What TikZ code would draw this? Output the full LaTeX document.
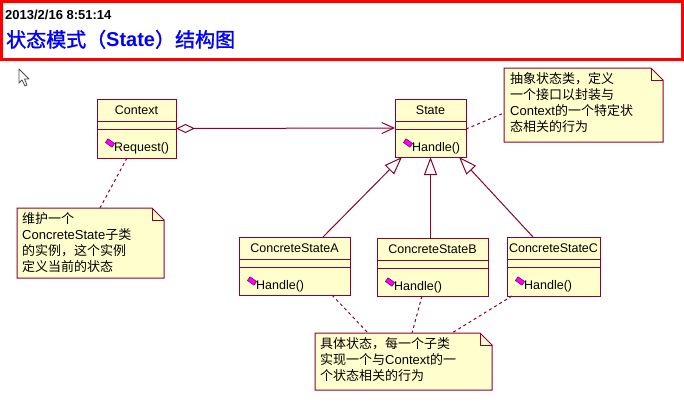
\documentclass[tikz,border=0pt]{standalone}
\usepackage{fontspec}
\setmainfont{Liberation Sans}
\newfontfamily\cjk{Noto Sans CJK SC}
\newfontfamily\cjkb{Noto Sans CJK SC}[FakeBold=1.5]
\usetikzlibrary{arrows.meta}
\definecolor{umlline}{RGB}{140,0,50}
\definecolor{umlfill}{RGB}{255,255,206}
\definecolor{opfill}{RGB}{255,0,255}
\definecolor{opline}{RGB}{120,0,100}
\definecolor{titleblue}{RGB}{0,0,255}
\definecolor{hdrred}{RGB}{255,0,0}
\newcommand\latin[1]{{\rmfamily #1}}
\tikzset{
  cls/.style={draw=umlline, fill=umlfill, line width=1pt, inner sep=0pt, outer sep=0pt, anchor=north west},
  umlrule/.style={draw=umlline, line width=1pt},
  clsname/.style={inner sep=0pt, font=\fontsize{12.5}{14}\selectfont},
  optext/.style={inner sep=0pt, anchor=west, font=\fontsize{12.5}{14}\selectfont},
  opicon/.style={draw=opline, fill=opfill, line width=0.6pt, minimum width=8pt, minimum height=4.5pt, inner sep=0pt, rotate=-35},
  notebox/.style={inner sep=0pt, outer sep=0pt, anchor=north west},
  notefill/.style={draw=umlline, fill=umlfill, line width=1pt},
  notefold/.style={draw=umlline, line width=0.6pt},
  notetext/.style={inner sep=0pt, anchor=base west, align=left, font=\cjk\fontsize{13}{16}\selectfont},
  gen/.style={draw=umlline, line width=1pt, -{Triangle[open, length=18pt, width=13pt]}},
  agg/.style={draw=umlline, line width=1pt, {Diamond[open, length=19pt, width=9pt]}-{Straight Barb[length=12pt, width=11pt]}},
  anchorline/.style={draw=umlline, line width=1pt, dash pattern=on 3pt off 3pt},
}
\newcommand\umlclass[7]{%
  \node[cls, minimum width={#4-#2}, minimum height={#5-#3}] (#1) at (#2,#3) {};
  \draw[umlrule] ([yshift=-22pt]#1.north west) -- ([yshift=-22pt]#1.north east);
  \draw[umlrule] ([yshift=-30pt]#1.north west) -- ([yshift=-30pt]#1.north east);
  \node[clsname] (#1-name) at ([yshift=-11.5pt]#1.north) {#6};
  \node[opicon] (#1-icon) at ([xshift=13pt,yshift=-44pt]#1.north west) {};
  \node[optext] (#1-op) at ([xshift=17pt,yshift=-49pt]#1.north west) {#7};
}
\newcommand\umlnote[5]{%
  \node[notebox, minimum width={#4-#2}, minimum height={#5-#3}] (#1) at (#2,#3) {};
  \path[notefill] (#1.north west) -- ([xshift=-12pt]#1.north east) -- ([yshift=-12pt]#1.north east) -- (#1.south east) -- (#1.south west) -- cycle;
  \draw[notefold] ([xshift=-12pt]#1.north east) -- ([xshift=-12pt,yshift=-12pt]#1.north east) -- ([yshift=-12pt]#1.north east);
}
\begin{document}
\begin{tikzpicture}[x=1pt, y=-1pt]
\useasboundingbox (0,0) rectangle (684,404);
\fill[white] (0,0) rectangle (684,404);
% header
\node[draw=hdrred, line width=3pt, minimum width=681pt, minimum height=58pt, anchor=north west, inner sep=0pt, outer sep=0pt] (hdr) at (1.5,1.5) {};
\node[anchor=base west, inner sep=0pt, font=\bfseries\fontsize{13}{15}\selectfont] (date) at (5,20) {2013/2/16 8:51:14};
\node[anchor=base west, inner sep=0pt, text=titleblue, font=\cjkb\fontsize{20}{22}\selectfont] (title) at (6,47) {状态模式（\latin{\bfseries State}）结构图};
% cursor
\draw[gray!60!black, fill=white, line width=0.8pt, line join=round] (19,69) -- (19,83) -- (22,80) -- (25,86) -- (27,85) -- (24.5,79) -- (29,79) -- cycle;
% notes (text anchored at the baseline of the last line)
\umlnote{nst}{504}{68}{663}{142}
\node[notetext] (nst-text) at (510,131) {抽象状态类，定义\\一个接口以封装与\\\latin{Context}的一个特定状\\态相关的行为};
\umlnote{nctx}{17}{208}{164}{278}
\node[notetext] (nctx-text) at (22,271) {维护一个\\\latin{ConcreteState}子类\\的实例，这个实例\\定义当前的状态};
\umlnote{nconc}{315}{333}{492}{390}
\node[notetext] (nconc-text) at (320,380) {具体状态，每一个子类\\实现一个与\latin{Context}的一\\个状态相关的行为};
% classes
\umlclass{ctx}{97}{99}{176}{158}{Context}{Request()}
\umlclass{st}{395}{99}{466}{157}{State}{Handle()}
\umlclass{ca}{239}{237}{350}{295}{ConcreteStateA}{Handle()}
\umlclass{cb}{377}{238}{488}{296}{ConcreteStateB}{Handle()}
\umlclass{cc}{507}{237}{600}{296}{ConcreteStateC}{Handle()}
% connectors
\draw[agg] (ctx.east) -- (st.west);
\draw[gen] ([xshift=84pt]ca.north west) -- ([xshift=7pt]st.south west);
\draw[gen] (cb.north -| st.south) -- (st.south);
\draw[gen] ([xshift=26pt]cc.north west) -- ([xshift=-7pt]st.south east);
\draw[anchorline] ([xshift=30pt]ctx.south west) -- ([xshift=83pt]nctx.north west);
\draw[anchorline] ([yshift=-1pt]st.east) -- ([yshift=-8pt]nst.west);
\draw[anchorline] ([xshift=93pt]ca.south west) -- ([xshift=53pt]nconc.north west);
\draw[anchorline] ([xshift=45pt]cb.south west) -- ([xshift=97pt]nconc.north west);
\draw[anchorline] ([xshift=5pt]cc.south west) -- ([xshift=137pt]nconc.north west);
\end{tikzpicture}
\end{document}
